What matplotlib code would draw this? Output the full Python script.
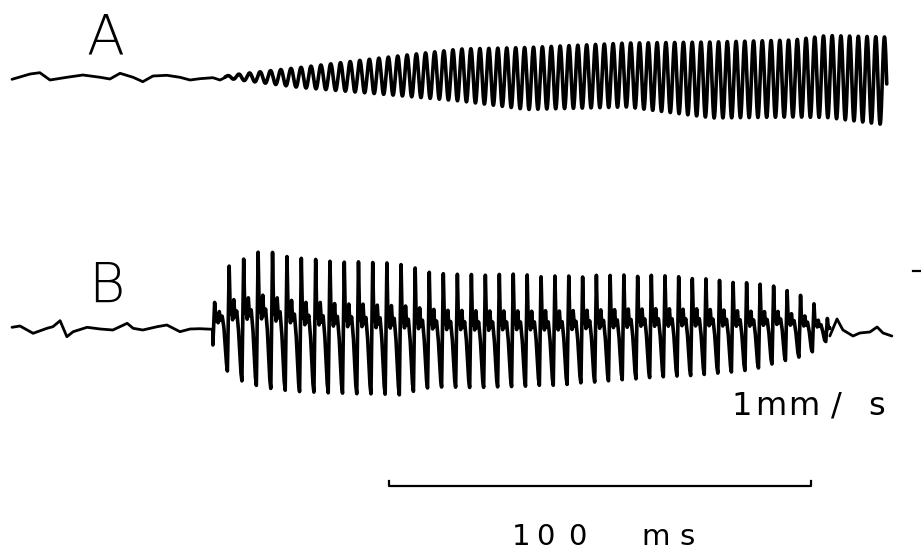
import numpy as np
import matplotlib
matplotlib.use("Agg")
import matplotlib.pyplot as plt

# ---------------- data (time in ms, amplitude in arbitrary units) ----------------
# Trace A: quiet baseline before oscillation onset
a_base_t = [0, 4.3, 6.6, 9.0, 13.0, 16.8, 20.9, 23.2, 25.6, 28.7, 31.0, 33.4,
            36.7, 39.8, 42.2, 44.5, 47.6, 49.3, 50.5]
a_base_v = [-1.3, 4, 5.3, -2, 0.7, 3, 0.7, -1, 4.7, 0.7, -3.7, 2,
            2.7, 0.7, -2, -0.7, 0.3, -2, 0.5]
# Trace A: oscillation envelope (centre and half peak-to-peak) and frequency
a_env_t = [50.5, 54.0, 68.2, 87.2, 106.2, 122.0, 145.7, 166.1, 185.1, 193.1, 207.3]
a_env_mid = [1, 1, 0.5, 2, 3, -0.5, 3, -2, -0.5, 1.5, -3]
a_env_half = [1, 3, 10, 18, 26, 31, 32, 38, 38.5, 41, 44]
a_freq_t = [50.5, 68.2, 106.2, 139.2, 207.3]
a_freq_hz = [383, 422, 469, 479, 485]

# Trace B: quiet baseline before burst
b_base_t = [0, 1.9, 5.0, 8.3, 9.7, 11.4, 13.0, 14.5, 17.8, 20.9, 23.9, 27.3,
            28.7, 31.0, 34.4, 36.7, 39.8, 42.2, 44.5, 47.6]
b_base_v = [0.7, 2, -5.3, -0.3, 1.3, 7.3, -8.7, -3.7, 0.7, -1, -2, 4.7,
            -0.3, -2, 1.3, 3, -3.7, -1, -0.7, -1.3]
# Trace B: burst envelope (peak tops and bottoms) and frequency
b_env_t = [48.1, 51.7, 59.5, 68.2, 91.9, 99.8, 109.2, 129.9, 150.5, 163.0,
           175.6, 182.0, 188.6, 191.9, 193.8]
b_env_top = [26, 65, 78, 70, 66, 56, 55, 53, 53, 51, 45, 41, 30, 18, 6]
b_env_bot = [-17, -49, -60, -64, -67, -59, -60, -57, -50, -47, -42, -34, -27, -17, -10]
b_freq_t = [47.6, 100.0, 193.8]
b_freq_hz = [290, 300, 315]
# One cycle of the B waveform (phase 0..1, level -1 bottom .. +1 top)
b_wave_phase = [0.00, 0.12, 0.20, 0.28, 0.36, 0.44, 0.52, 0.64, 0.76, 0.92, 1.00]
b_wave_level = [-1.0, 1.0, 0.10, 0.30, 0.00, 0.35, 0.05, 0.15, -0.15, -0.85, -1.0]
# Trace B: decaying tail after burst
b_tail_t = [193.8, 195.5, 196.9, 199.3, 200.9, 203.3, 205.0, 206.4, 208.5]
b_tail_v = [-8, 9, -2, -8, -5, -4, 1, -5, -8]

scale_ms = 100
scale_label = "100 ms"
cal_label = "1mm/s"
labels = ["A", "B"]

# ---------------- layout constants ----------------
W, H, DPI = 921, 550, 100
PX_PER_MS = 4.22
X0 = 12             # pixel x of t=0
A_Y, B_Y = 78, 328  # pixel y of baselines
LW_BASE = 2.0
LW_OSC = 2.6


def phase_of(t, ft, fh):
    f = np.interp(t, ft, fh) / 1000.0  # cycles per ms
    dt = np.diff(t, prepend=t[0])
    return np.cumsum(f * dt)


fig = plt.figure(figsize=(W / DPI, H / DPI), dpi=DPI)
ax = fig.add_axes([0, 0, 1, 1])
ax.set_xlim(-X0 / PX_PER_MS, (W - X0) / PX_PER_MS)
ax.set_ylim(-H, 0)
ax.axis("off")

kw = dict(color="black", solid_joinstyle="round", solid_capstyle="round")

# ---- Trace A ----
ax.plot(a_base_t, np.array(a_base_v) - A_Y, lw=LW_BASE, **kw)
ta = np.arange(a_env_t[0], a_env_t[-1], 0.02)
pa = phase_of(ta, a_freq_t, a_freq_hz)
mid = np.interp(ta, a_env_t, a_env_mid)
half = np.interp(ta, a_env_t, a_env_half)
ya = mid + half * np.sin(2 * np.pi * pa)
ax.plot(ta, ya - A_Y, lw=LW_OSC, **kw)

# ---- Trace B ----
ax.plot(b_base_t, np.array(b_base_v) - B_Y, lw=LW_BASE, **kw)
tb = np.arange(b_env_t[0] - 0.5, b_env_t[-1], 0.02)
pb = phase_of(tb, b_freq_t, b_freq_hz) % 1.0
lev = np.interp(pb, b_wave_phase, b_wave_level)
top = np.interp(tb, b_env_t, b_env_top)
bot = np.interp(tb, b_env_t, b_env_bot)
yb = (top + bot) / 2 + (top - bot) / 2 * lev
ax.plot(np.r_[b_base_t[-1], tb], np.r_[b_base_v[-1], yb] - B_Y, lw=LW_OSC, **kw)
ax.plot(b_tail_t, np.array(b_tail_v) - B_Y, lw=LW_BASE, **kw)

# ---- time scale bar ----
s0 = (389 - X0) / PX_PER_MS
ax.plot([s0, s0, s0 + scale_ms, s0 + scale_ms], [-481, -486, -486, -481],
        color="black", lw=1.6)
# calibration tick at right edge
ax.plot([(913 - X0) / PX_PER_MS, (921 - X0) / PX_PER_MS], [-271, -271],
        color="black", lw=1.6)


# ---- text ----
def ftext(x, y, s, size, **k):
    fig.text(x / W, 1 - y / H, s, fontsize=size, ha="center", va="baseline",
             family="DejaVu Sans", **k)


ftext(105, 54, labels[0], 40, fontweight="light")
ftext(106, 302, labels[1], 40, fontweight="light")

for ch, x in zip(cal_label, [742, 771, 804, 836, 877]):
    ftext(x, 415, ch, 23)
for ch, x in zip(scale_label.replace(" ", ""), [521, 545, 577, 656, 687]):
    ftext(x, 545, ch, 21)

fig.savefig("out.png", dpi=DPI, facecolor="white")
